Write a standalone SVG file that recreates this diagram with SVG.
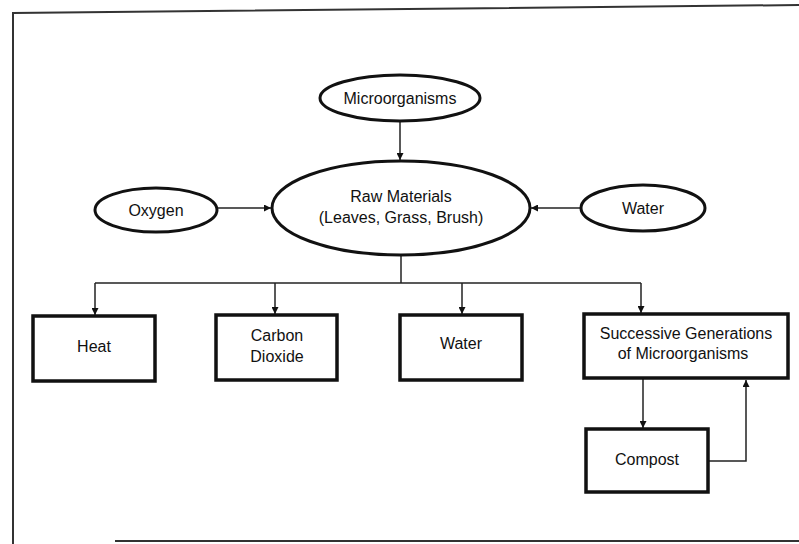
<svg xmlns="http://www.w3.org/2000/svg" width="799" height="544" viewBox="0 0 799 544">
<style>
.el{fill:#fff;stroke:#111;stroke-width:3}
.bx{fill:#fff;stroke:#111;stroke-width:3.5}
.cn{fill:none;stroke:#222;stroke-width:1.5}
.fr{fill:none;stroke:#333;stroke-width:2}
text{font-family:"Liberation Sans",Arial,sans-serif;font-size:16px;fill:#111;text-anchor:middle}
</style>
<defs>
<marker id="ah" viewBox="0 0 10 10" refX="10" refY="5" markerWidth="7" markerHeight="7" markerUnits="userSpaceOnUse" orient="auto">
<path d="M0,0 L10,5 L0,10 z" fill="#111"/>
</marker>
</defs>
<g id="frame">
<polyline class="fr" points="799,5 13,13 13,544"/>
<line class="fr" x1="115" y1="541" x2="799" y2="541"/>
</g>
<g id="connectors">
<line class="cn" x1="400" y1="121" x2="400" y2="160" marker-end="url(#ah)"/>
<line class="cn" x1="218" y1="208" x2="271" y2="208" marker-end="url(#ah)"/>
<line class="cn" x1="580" y1="208" x2="531" y2="208" marker-end="url(#ah)"/>
<polyline class="cn" points="401,255 401,283"/>
<line class="cn" x1="95" y1="283" x2="641" y2="283"/>
<line class="cn" x1="95" y1="283" x2="95" y2="315" marker-end="url(#ah)"/>
<line class="cn" x1="275" y1="283" x2="275" y2="314" marker-end="url(#ah)"/>
<line class="cn" x1="462" y1="283" x2="462" y2="314" marker-end="url(#ah)"/>
<line class="cn" x1="641" y1="283" x2="641" y2="313" marker-end="url(#ah)"/>
<line class="cn" x1="643" y1="379" x2="643" y2="428" marker-end="url(#ah)"/>
<polyline class="cn" points="709,461 746,461 746,380" marker-end="url(#ah)"/>
</g>
<g id="microorganisms">
<ellipse class="el" cx="400" cy="98" rx="80" ry="23"/>
<text x="400" y="104">Microorganisms</text>
</g>
<g id="raw-materials">
<ellipse class="el" cx="401" cy="208" rx="129" ry="47"/>
<text x="401" y="202">Raw Materials</text>
<text x="401" y="223">(Leaves, Grass, Brush)</text>
</g>
<g id="oxygen">
<ellipse class="el" cx="156" cy="210" rx="61" ry="22"/>
<text x="156" y="216">Oxygen</text>
</g>
<g id="water-in">
<ellipse class="el" cx="643" cy="208" rx="62" ry="23"/>
<text x="643" y="214">Water</text>
</g>
<g id="heat">
<rect class="bx" x="33" y="316" width="122" height="65"/>
<text x="94" y="352">Heat</text>
</g>
<g id="carbon-dioxide">
<rect class="bx" x="216" y="315" width="121" height="65"/>
<text x="277" y="341">Carbon</text>
<text x="277" y="362">Dioxide</text>
</g>
<g id="water-out">
<rect class="bx" x="400" y="315" width="122" height="65"/>
<text x="461" y="349">Water</text>
</g>
<g id="successive">
<rect class="bx" x="584" y="314" width="204" height="64"/>
<text x="686" y="339">Successive Generations</text>
<text x="683" y="359">of Microorganisms</text>
</g>
<g id="compost">
<rect class="bx" x="586" y="429" width="122" height="63"/>
<text x="647" y="465">Compost</text>
</g>
</svg>
